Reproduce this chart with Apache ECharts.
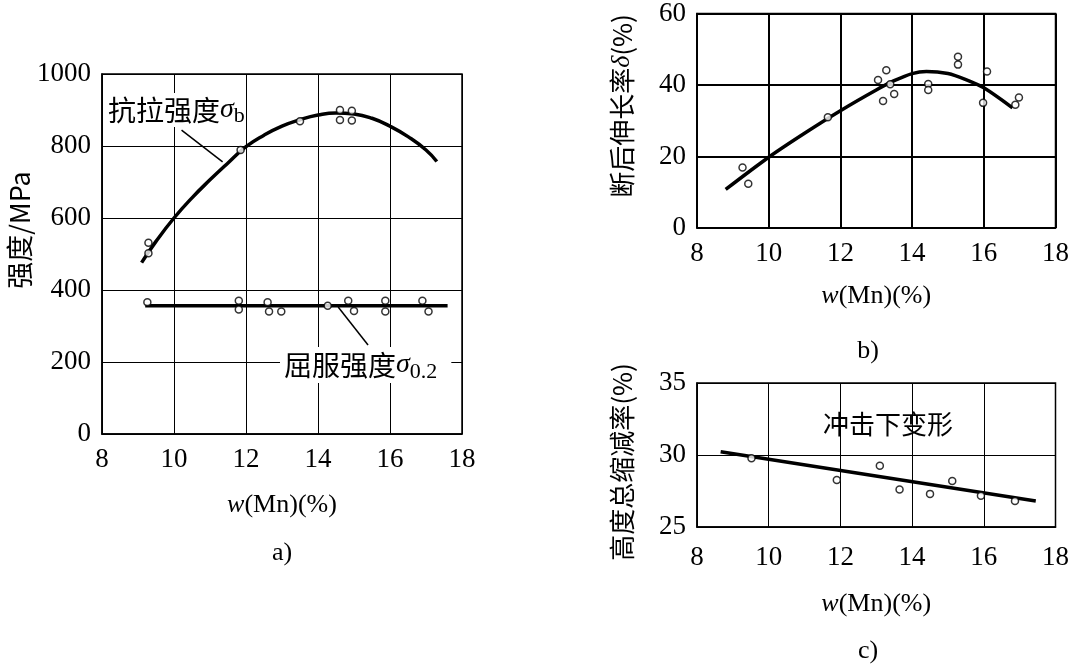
<!DOCTYPE html>
<html>
<head>
<meta charset="utf-8">
<script src="https://cdn.jsdelivr.net/npm/echarts@6/dist/echarts.min.js"></script>
<style>
  html, body { margin: 0; padding: 0; background: #fff; }
  #chart { width: 1072px; height: 664px; }
</style>
</head>
<body>
<div id="chart"></div>
<script>
// panel a: strength vs Mn
const tensileCurveX = [9.1, 9.5, 10, 10.5, 11, 11.5, 12, 12.5, 13, 13.5, 14, 14.5, 15, 15.5, 16, 16.5, 17, 17.3]
const tensileCurveY = [476, 535, 600, 656, 706, 753, 798, 830, 855, 873, 886, 892, 889, 877, 855, 826, 789, 757]
const tensilePts = [[9.29, 531], [9.29, 502], [11.85, 789], [13.5, 869], [14.61, 900], [14.61, 872], [14.94, 898], [14.94, 871]]
const yieldLineX = [9.2, 17.6]
const yieldLineY = [356, 356]
const yieldPts = [[9.26, 366], [11.8, 370], [11.8, 346], [12.6, 366], [12.64, 340], [12.98, 340], [14.27, 356],
  [14.84, 370], [15.0, 342], [15.87, 370], [15.87, 340], [16.9, 370], [17.07, 340]]

// panel b: elongation
const elongCurveX = [8.8, 10, 11, 12, 13, 13.5, 14, 14.4, 15, 15.5, 16, 16.8]
const elongCurveY = [10.8, 19.8, 26.5, 32.8, 38.6, 41.2, 43.2, 43.8, 43.2, 41.5, 39.2, 33.6]
const elongPts = [[9.27, 16.9], [9.43, 12.4], [11.65, 31], [13.05, 41.4], [13.28, 44.1], [13.19, 35.5], [13.39, 40.2],
  [13.5, 37.5], [14.45, 40.3], [14.45, 38.6], [15.28, 47.9], [15.28, 45.7], [16.09, 43.8], [15.98, 35],
  [16.88, 34.5], [16.98, 36.5]]

// panel c: height reduction under impact
const reduceLineX = [8.66, 17.45]
const reduceLineY = [30.23, 26.8]
const reducePts = [[9.52, 29.77], [11.9, 28.26], [13.1, 29.26], [13.65, 27.6], [14.5, 27.3], [15.12, 28.2], [15.92, 27.17], [16.87, 26.8]]

const xTicks = { min: 8, max: 18, interval: 2 }
const yTicksA = { min: 0, max: 1000, interval: 200 }
const yTicksB = { min: 0, max: 60, interval: 20 }
const yTicksC = { min: 25, max: 35, interval: 5 }

const serif = '"Liberation Serif", "Noto Sans CJK SC", serif'
const cjk = '"Noto Sans CJK SC", "Liberation Serif", sans-serif'

const zip = (xs, ys) => xs.map((x, i) => [x, ys[i]])

function xAxis(idx, gap, gridLw, margin) {
  return {
    type: 'value', gridIndex: idx, ...xTicks,
    name: '{i|w}(Mn)(%)', nameLocation: 'middle', nameGap: gap,
    nameTextStyle: { color: '#000', fontFamily: serif, fontSize: 26, rich: { i: { fontStyle: 'italic', fontFamily: serif, fontSize: 26, color: '#000' } } },
    axisLine: { show: true, lineStyle: { color: '#000', width: 1.5 } },
    axisTick: { show: false },
    axisLabel: { color: '#000', fontFamily: serif, fontSize: 27, margin },
    splitLine: { show: true, lineStyle: { color: '#000', width: gridLw } },
  }
}
function yAxis(idx, ticks, gridLw) {
  return {
    type: 'value', gridIndex: idx, ...ticks,
    axisLine: { show: true, lineStyle: { color: '#000', width: 1.5 } },
    axisTick: { show: false },
    axisLabel: { color: '#000', fontFamily: serif, fontSize: 27, margin: 11, formatter: (v) => String(v) },
    splitLine: { show: true, lineStyle: { color: '#000', width: gridLw } },
  }
}
const curve = (xi, yi, data, lw, smooth) => ({
  type: 'line', xAxisIndex: xi, yAxisIndex: yi, data, smooth, showSymbol: false,
  lineStyle: { color: '#000', width: lw }, z: 5,
})
const dots = (xi, yi, data) => ({
  type: 'scatter', xAxisIndex: xi, yAxisIndex: yi, data, symbol: 'circle', symbolSize: 7,
  itemStyle: { color: '#fff', borderColor: '#000', borderWidth: 1.5 }, z: 6,
})
const leader = (xi, yi, from, to) => ({
  type: 'line', xAxisIndex: xi, yAxisIndex: yi, data: [], silent: true,
  markLine: {
    symbol: 'none', silent: true, label: { show: false },
    lineStyle: { color: '#000', width: 1.5, type: 'solid' },
    data: [[{ coord: from }, { coord: to }]],
  },
})

const chart = echarts.init(document.getElementById('chart'), null, { renderer: 'canvas' })
chart.setOption({
  backgroundColor: '#fff',
  animation: false,
  grid: [
    { left: 102, top: 74, width: 360, height: 360, show: true, borderColor: '#000', borderWidth: 1.5 },
    { left: 697, top: 13, width: 360, height: 215, show: true, borderColor: '#000', borderWidth: 1.5 },
    { left: 697, top: 383, width: 360, height: 144, show: true, borderColor: '#000', borderWidth: 1.5 },
  ],
  xAxis: [xAxis(0, 58, 1, 12), xAxis(1, 55, 2, 12), xAxis(2, 64, 1, 17)],
  yAxis: [yAxis(0, yTicksA, 1), yAxis(1, yTicksB, 2), yAxis(2, yTicksC, 1)],
  series: [
    curve(0, 0, zip(tensileCurveX, tensileCurveY), 3.5, 0.5),
    dots(0, 0, tensilePts),
    curve(0, 0, zip(yieldLineX, yieldLineY), 3.5, false),
    dots(0, 0, yieldPts),
    leader(0, 0, [10.21, 844], [11.35, 756]),
    leader(0, 0, [14.56, 353], [15.39, 247]),
    curve(1, 1, zip(elongCurveX, elongCurveY), 3.5, 0.3),
    dots(1, 1, elongPts),
    curve(2, 2, zip(reduceLineX, reduceLineY), 3.5, false),
    dots(2, 2, reducePts),
  ],
  graphic: [
    { type: 'text', z: 100, x: 20, y: 230, rotation: Math.PI / 2,
      style: { text: '强度/MPa', font: '27px ' + cjk, fill: '#000', align: 'center', verticalAlign: 'middle' } },
    { type: 'text', z: 100, x: 622, y: 106, rotation: Math.PI / 2,
      style: { text: '断后伸长率{i|δ}(%)', font: '26px ' + cjk, fill: '#000', align: 'center', verticalAlign: 'middle',
        rich: { i: { fontStyle: 'italic', fontFamily: serif, fontSize: 26, fill: '#000' } } } },
    { type: 'text', z: 100, x: 622, y: 462, rotation: Math.PI / 2,
      style: { text: '高度总缩减率(%)', font: '26px ' + cjk, fill: '#000', align: 'center', verticalAlign: 'middle' } },
    { type: 'text', z: 100, x: 108, y: 110,
      style: { text: '抗拉强度{s|σ}{b|b}', font: '28px ' + cjk, fill: '#000', align: 'left', verticalAlign: 'middle',
        backgroundColor: '#fff',
        rich: { s: { fontStyle: 'italic', fontFamily: serif, fontSize: 28, fill: '#000' },
          b: { fontFamily: serif, fontSize: 22, fill: '#000', padding: [12, 0, 0, 0] } } } },
    { type: 'text', z: 100, x: 280, y: 365,
      style: { text: '屈服强度{s|σ}{b|0.2}', font: '28px ' + cjk, fill: '#000', align: 'left', verticalAlign: 'middle',
        backgroundColor: '#fff', padding: [0, 14, 0, 4],
        rich: { s: { fontStyle: 'italic', fontFamily: serif, fontSize: 28, fill: '#000' },
          b: { fontFamily: serif, fontSize: 22, fill: '#000', padding: [14, 0, 0, 0] } } } },
    { type: 'text', z: 100, x: 888, y: 424,
      style: { text: '冲击下变形', font: '26px ' + cjk, fill: '#000', align: 'center', verticalAlign: 'middle' } },
    { type: 'text', z: 100, x: 282, y: 553,
      style: { text: 'a)', font: '26px ' + serif, fill: '#000', align: 'center', verticalAlign: 'middle' } },
    { type: 'text', z: 100, x: 868, y: 351,
      style: { text: 'b)', font: '26px ' + serif, fill: '#000', align: 'center', verticalAlign: 'middle' } },
    { type: 'text', z: 100, x: 868, y: 651,
      style: { text: 'c)', font: '26px ' + serif, fill: '#000', align: 'center', verticalAlign: 'middle' } },
  ],
})
window.addEventListener('resize', () => chart.resize())
</script>
</body>
</html>
